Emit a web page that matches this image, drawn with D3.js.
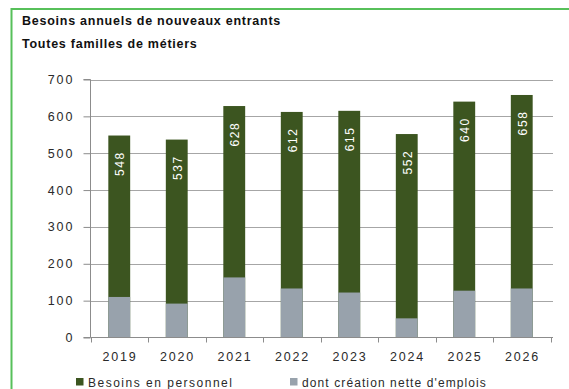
<!DOCTYPE html>
<html>
<head>
<meta charset="utf-8">
<script src="https://cdn.jsdelivr.net/npm/d3@7"></script>
<style>
  html, body { margin: 0; padding: 0; background: #fff; }
  svg { display: block; font-family: "Liberation Sans", Arial, sans-serif; }
</style>
</head>
<body>
<svg id="chart" width="569" height="389"></svg>
<script>
// Annual hiring needs, all occupation families
const years = ["2019", "2020", "2021", "2022", "2023", "2024", "2025", "2026"];
const besoins = [548, 537, 628, 612, 615, 552, 640, 658];          // total recruitment needs
const creationNette = [110, 92, 163, 133, 122, 52, 127, 133];       // of which net job creation
const yTicks = [0, 100, 200, 300, 400, 500, 600, 700];
const titleLines = ["Besoins annuels de nouveaux entrants", "Toutes familles de métiers"];
const legendLabels = ["Besoins en personnel", "dont création nette d'emplois"];

const colGreen = "#3c5520";
const colGray = "#98a2ac";
const colFrame = "#57c05a";
const colAxis = "#8c8c8c";
const colText = "#2a2a2a";

const svg = d3.select("#chart");

// frame (top and left edges visible)
svg.append("rect")
  .attr("x", 11.5).attr("y", 9)
  .attr("width", 600).attr("height", 400)
  .attr("fill", "none")
  .attr("stroke", colFrame)
  .attr("stroke-width", 2);

// title
svg.append("g").selectAll("text")
  .data(titleLines)
  .join("text")
  .attr("x", 22)
  .attr("y", (d, i) => 25 + i * 22.5)
  .attr("font-size", 12.5)
  .attr("font-weight", "bold")
  .attr("letter-spacing", 0.75)
  .attr("fill", "#111")
  .text(d => d);

const x = d3.scaleBand()
  .domain(years)
  .range([90.5, 550.5])
  .paddingInner(0.62)
  .paddingOuter(0.31);

const y = d3.scaleLinear()
  .domain([0, 700])
  .range([337.5, 79.5]);

// horizontal gridlines
svg.append("g").selectAll("line")
  .data(yTicks.filter(t => t > 0))
  .join("line")
  .attr("x1", 90.5).attr("x2", 553)
  .attr("y1", d => Math.round(y(d)) + 0.5)
  .attr("y2", d => Math.round(y(d)) + 0.5)
  .attr("stroke", "#a6a6a6")
  .attr("stroke-width", 1);

// bars: total needs, then net creation from zero
svg.append("g").selectAll("rect")
  .data(years)
  .join("rect")
  .attr("x", d => x(d))
  .attr("width", x.bandwidth())
  .attr("y", (d, i) => y(besoins[i]))
  .attr("height", (d, i) => y(0) - y(besoins[i]))
  .attr("fill", colGreen);

svg.append("g").selectAll("rect")
  .data(years)
  .join("rect")
  .attr("x", d => x(d))
  .attr("width", x.bandwidth())
  .attr("y", (d, i) => y(creationNette[i]))
  .attr("height", (d, i) => y(0) - y(creationNette[i]))
  .attr("fill", colGray);

// value labels inside bars, rotated
svg.append("g").selectAll("text")
  .data(years)
  .join("text")
  .attr("transform", (d, i) => `translate(${x(d) + x.bandwidth() / 2 + 0.5},${y(besoins[i]) + 28}) rotate(-90)`)
  .attr("text-anchor", "middle")
  .attr("dy", "0.36em")
  .attr("font-size", 12)
  .attr("letter-spacing", 1.6)
  .attr("fill", "#fff")
  .text((d, i) => besoins[i]);

// y axis
const yAxis = d3.axisLeft(y)
  .tickValues(yTicks)
  .tickSize(7)
  .tickPadding(9)
  .tickFormat(d3.format("d"));

const gy = svg.append("g")
  .attr("transform", "translate(90.5,0)")
  .call(yAxis);
gy.select(".domain").attr("stroke", colAxis).attr("d", `M-7,${y(0)}H0V${y(700)}H-7`);
gy.selectAll(".tick line").attr("stroke", colAxis);
gy.selectAll(".tick text")
  .attr("font-size", 12.5)
  .attr("letter-spacing", 2)
  .attr("fill", colText)
  .attr("font-family", "Liberation Sans, Arial, sans-serif");

// x axis: baseline with ticks between categories
const gx = svg.append("g");
gx.append("line")
  .attr("x1", 90.5).attr("x2", 553)
  .attr("y1", y(0)).attr("y2", y(0))
  .attr("stroke", colAxis);
const boundaries = years.map(d => x(d) - x.step() * x.paddingInner() / 2)
  .concat([x(years[years.length - 1]) + x.bandwidth() + x.step() * x.paddingInner() / 2]);
gx.selectAll("line.tk")
  .data(boundaries)
  .join("line")
  .attr("class", "tk")
  .attr("x1", d => Math.round(d) + 0.5).attr("x2", d => Math.round(d) + 0.5)
  .attr("y1", y(0)).attr("y2", y(0) + 5)
  .attr("stroke", colAxis);
gx.selectAll("text")
  .data(years)
  .join("text")
  .attr("x", d => x(d) + x.bandwidth() / 2 + 0.8)
  .attr("y", 360.5)
  .attr("text-anchor", "middle")
  .attr("font-size", 12.5)
  .attr("letter-spacing", 1.8)
  .attr("fill", colText)
  .text(d => d);

// legend
const legendItems = [
  { label: legendLabels[0], color: colGreen, x: 76 },
  { label: legendLabels[1], color: colGray, x: 290 }
];
const lg = svg.append("g").selectAll("g")
  .data(legendItems)
  .join("g")
  .attr("transform", d => `translate(${d.x},378)`);
lg.append("rect")
  .attr("width", 7.5).attr("height", 7.5)
  .attr("fill", d => d.color);
lg.append("text")
  .attr("x", 12)
  .attr("y", 8.5)
  .attr("font-size", 12)
  .attr("letter-spacing", (d, i) => i === 0 ? 1.5 : 1.1)
  .attr("fill", colText)
  .text(d => d.label);
</script>
</body>
</html>
